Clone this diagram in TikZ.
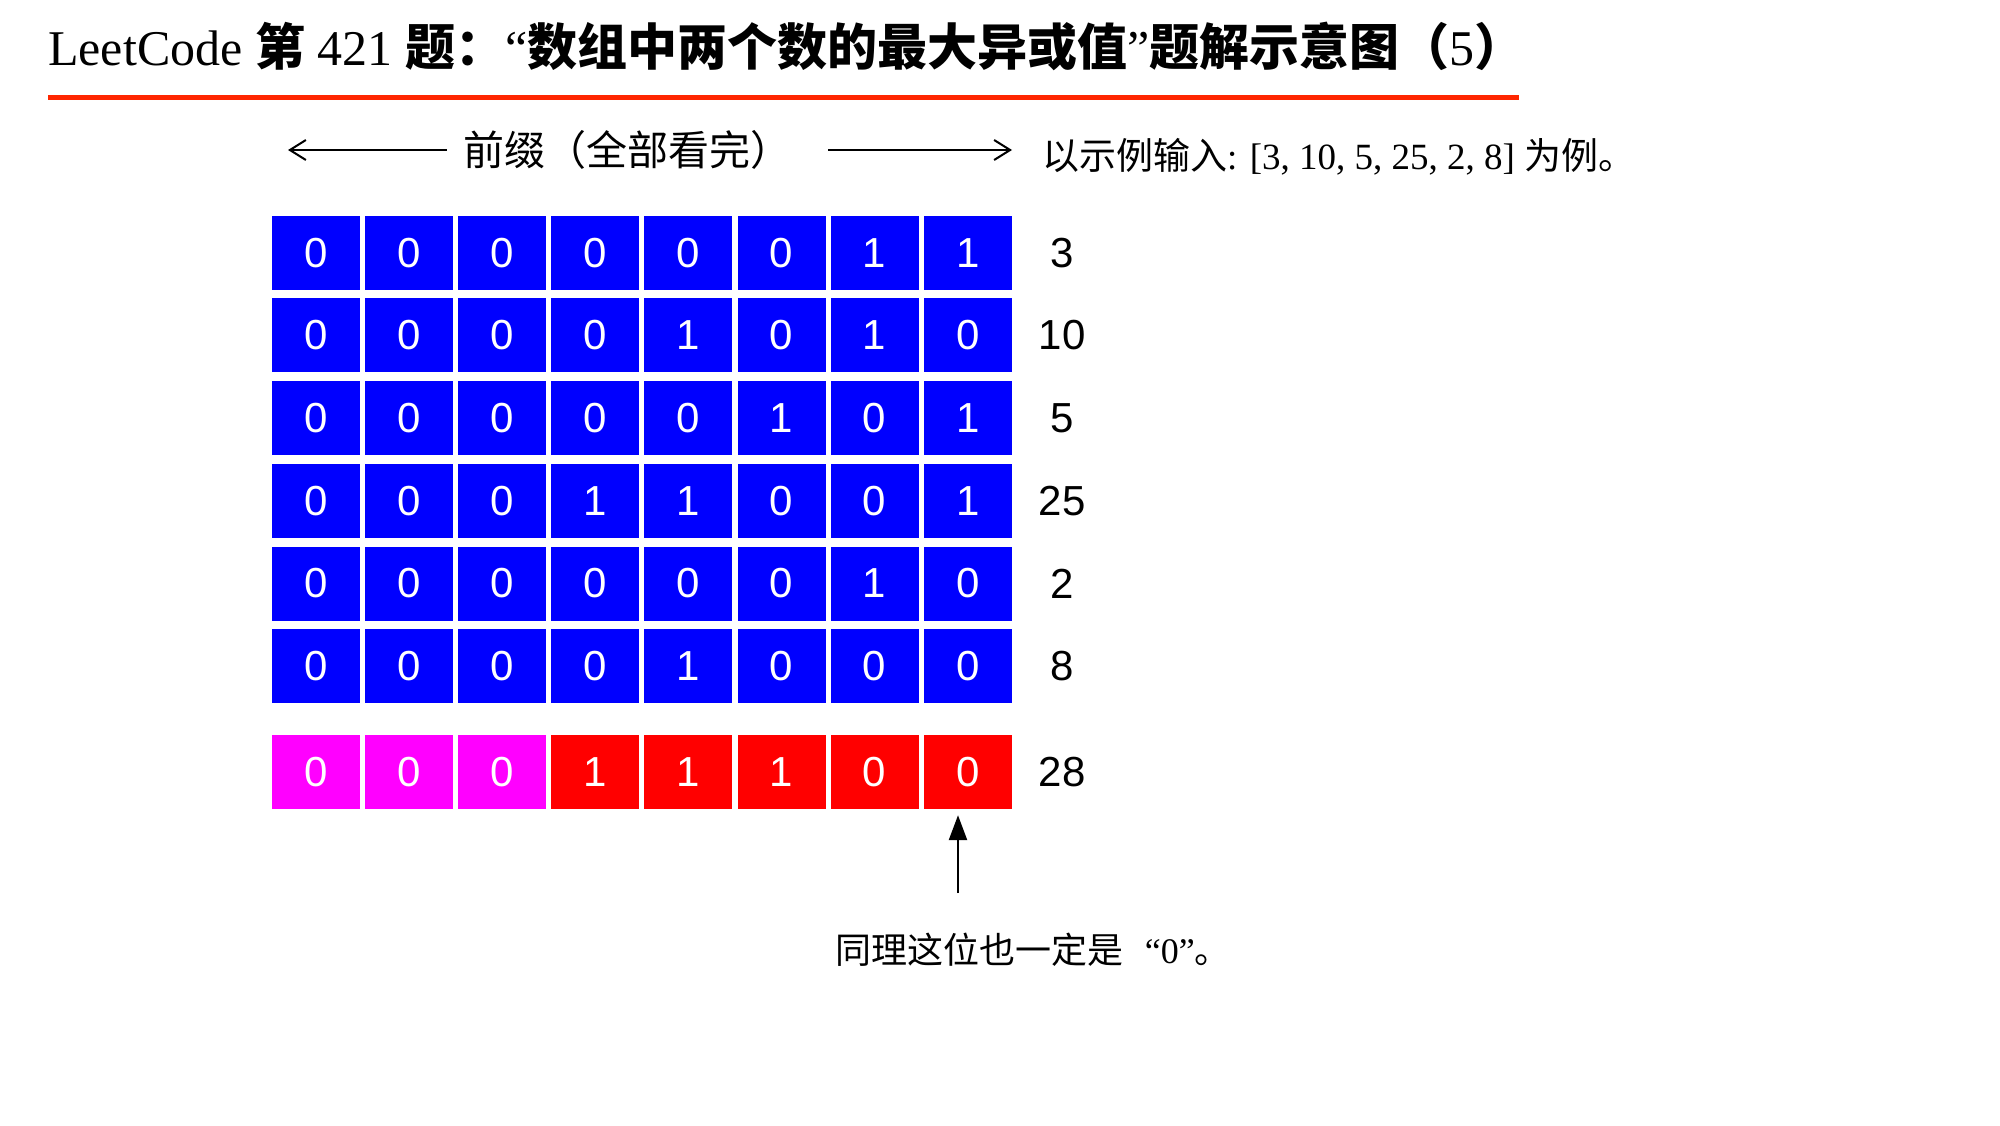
\documentclass[tikz,border=0pt]{standalone}
\usepackage{fontspec}
\setmainfont{Liberation Serif}
\setsansfont{Liberation Sans}
\newfontfamily\cjk{Noto Sans CJK SC}
\usetikzlibrary{positioning,arrows.meta}
\definecolor{titlered}{RGB}{255,38,0}
\definecolor{bitmagenta}{RGB}{255,0,255}

\begin{document}
\begin{tikzpicture}[x=1pt, y=-1pt,
    bit/.style={minimum width=88pt, minimum height=74pt, inner sep=0pt,
        fill=blue, text=white, font=\sffamily\fontsize{42}{42}\selectfont},
    num/.style={inner sep=0pt, font=\sffamily\fontsize{42}{42}\selectfont},
    guide/.style={line width=2pt, -{Straight Barb[length=16pt,width=20pt]}},
    pointer/.style={line width=2.5pt, -{Triangle[length=25pt,width=18pt]}}]
    \useasboundingbox (0,0) rectangle (2000,1125);

    % Title and rule
    \node[anchor=base west, inner sep=0pt, font=\fontsize{50}{50}\selectfont] (title) at (48,65)
        {LeetCode {\cjk\bfseries 第} 421 {\cjk\bfseries 题：}“{\cjk\bfseries 数组中两个数的最大异或值}”{\cjk\bfseries 题解示意图（}5{\cjk\bfseries ）}};
    \draw[titlered, line width=5pt] (48,97) -- (1519,97);

    % Prefix header
    \node[inner sep=0pt, font=\cjk\fontsize{41}{41}\selectfont] (prefix) at (627,150) {前缀（全部看完）};
    \coordinate (pl) at (288,150);
    \coordinate (pr) at (1012,150);
    \draw[guide] ([xshift=-16pt]prefix.west) -- (pl);
    \draw[guide] ([xshift=37pt]prefix.east) -- (pr);
    \node[anchor=west, inner sep=0pt, font=\fontsize{37}{37}\selectfont] (input) at (1042,157)
        {{\cjk 以示例输入}: [3, 10, 5, 25, 2, 8] {\cjk 为例。}};

    % Numbers in binary
    \foreach \b [count=\c] in {0,0,0,0,0,0,1,1}
        \node[bit] (r1c\c) at ({316+93.1*(\c-1)},252.7) {\b};
    \foreach \b [count=\c] in {0,0,0,0,1,0,1,0}
        \node[bit] (r2c\c) at ({316+93.1*(\c-1)},335.4) {\b};
    \foreach \b [count=\c] in {0,0,0,0,0,1,0,1}
        \node[bit] (r3c\c) at ({316+93.1*(\c-1)},418.1) {\b};
    \foreach \b [count=\c] in {0,0,0,1,1,0,0,1}
        \node[bit] (r4c\c) at ({316+93.1*(\c-1)},500.8) {\b};
    \foreach \b [count=\c] in {0,0,0,0,0,0,1,0}
        \node[bit] (r5c\c) at ({316+93.1*(\c-1)},583.5) {\b};
    \foreach \b [count=\c] in {0,0,0,0,1,0,0,0}
        \node[bit] (r6c\c) at ({316+93.1*(\c-1)},666.2) {\b};

    % Result
    \foreach \b/\col [count=\c] in {0/bitmagenta,0/bitmagenta,0/bitmagenta,1/red,1/red,1/red,0/red,0/red}
        \node[bit, fill=\col] (r7c\c) at ({316+93.1*(\c-1)},772) {\b};

    % Values
    \foreach \v [count=\r] in {3,10,5,25,2,8}
        \node[num] (n\r) at (1062,{252.7+82.7*(\r-1)}) {\v};
    \node[num] (n7) at (1062,772) {28};

    % Pointer
    \coordinate (tail) at (958,893);
    \draw[pointer] (tail) -- ([yshift=-6pt]tail |- r7c8.south);
    \node[anchor=west, inner sep=0pt, font=\fontsize{36}{36}\selectfont] (note) at (835,950)
        {{\cjk 同理这位也一定是}\hspace{0.6em}“0”{\cjk 。}};
\end{tikzpicture}
\end{document}
